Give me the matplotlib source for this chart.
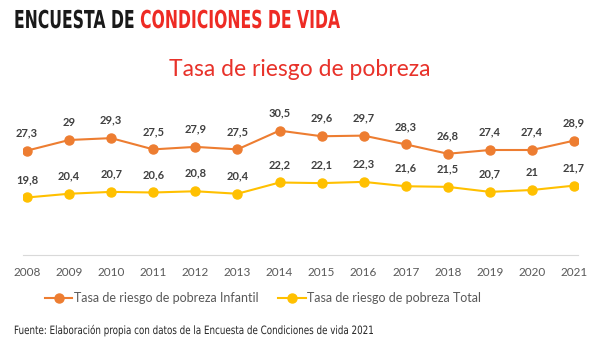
import matplotlib.pyplot as plt
import numpy as np
from matplotlib.textpath import TextPath
from matplotlib.patches import PathPatch
from matplotlib.font_manager import FontProperties
import matplotlib.transforms as mtransforms

# Encuesta de Condiciones de Vida - tasa de riesgo de pobreza

years = [2008, 2009, 2010, 2011, 2012, 2013, 2014, 2015, 2016, 2017, 2018, 2019, 2020, 2021]
infantil = [27.3, 29, 29.3, 27.5, 27.9, 27.5, 30.5, 29.6, 29.7, 28.3, 26.8, 27.4, 27.4, 28.9]
total = [19.8, 20.4, 20.7, 20.6, 20.8, 20.4, 22.2, 22.1, 22.3, 21.6, 21.5, 20.7, 21, 21.7]
series_names = ["Tasa de riesgo de pobreza Infantil", "Tasa de riesgo de pobreza Total"]

orange = "#ED7D31"
yellow = "#FFC000"
label_font = ["Lato", "DejaVu Sans"]

fig = plt.figure(figsize=(6, 3.48), dpi=100)
ax = fig.add_axes([22.8 / 600, 93 / 348, 555.5 / 600, 155 / 348])

for values, col, name in [(infantil, orange, series_names[0]), (total, yellow, series_names[1])]:
	ax.plot(years, values, color=col, lw=1.5, marker="o", markersize=6.5,
		markeredgecolor=col, label=name)
	for x, v in zip(years, values):
		txt = ("%g" % v).replace(".", ",")
		ax.annotate(txt, (x, v), xytext=(0, 9), textcoords="offset points",
			ha="center", va="bottom", fontsize=8, fontweight="bold",
			color="#404040", family=label_font)

ax.set_xlim(2007.9, 2021.1)
ax.set_ylim(10.6, 35.4)
ax.set_xticks(years)
ax.set_xticklabels([str(y) for y in years], family=label_font, fontsize=8.5, color="#595959")
ax.set_yticks([])
ax.tick_params(axis="x", length=0, pad=9)
for side in ["top", "left", "right"]:
	ax.spines[side].set_visible(False)
ax.spines["bottom"].set_color("#D9D9D9")

leg = fig.legend(loc="center", bbox_to_anchor=(263 / 600, 1 - 298 / 348), ncol=2, frameon=False,
	prop={"family": label_font, "size": 9}, handlelength=2.2, columnspacing=1.6,
	handletextpad=0.1)
for t in leg.get_texts():
	t.set_color("#595959")

fig.text(0.5, 1 - 70 / 348, "Tasa de riesgo de pobreza", ha="center", va="center",
	fontsize=16.5, color="#E8322A", family=label_font)


# no condensed font installed: draw glyph paths and squeeze them horizontally
def advance(s, size, fp):
	# width including trailing spaces
	bar = TextPath((0, 0), "|", size=size, prop=fp).get_extents().x1
	return TextPath((0, 0), s + "|", size=size, prop=fp).get_extents().x1 - bar


def narrow_text(parts, x0, y_base, size, width, weight):
	fp = FontProperties(family="DejaVu Sans", weight=weight)
	full = TextPath((0, 0), "".join(s for s, c in parts), size=size, prop=fp)
	sx = width / full.get_extents().x1
	x = 0
	for s, c in parts:
		p = TextPath((0, 0), s, size=size, prop=fp)
		tr = mtransforms.Affine2D().translate(x, 0).scale(sx, 1).translate(x0, y_base)
		fig.add_artist(PathPatch(p, facecolor=c, edgecolor="none", transform=tr))
		x += advance(s, size, fp)


narrow_text([("ENCUESTA DE ", "#1a1a1a"), ("CONDICIONES DE VIDA", "#EE2B24")],
	14, 348 - 28, 24.7, 326, "bold")
narrow_text([("Fuente: Elaboración propia con datos de la Encuesta de Condiciones de vida 2021", "#262626")],
	14, 348 - 334, 11.5, 359, "normal")

fig.savefig("out.png", dpi=100)
